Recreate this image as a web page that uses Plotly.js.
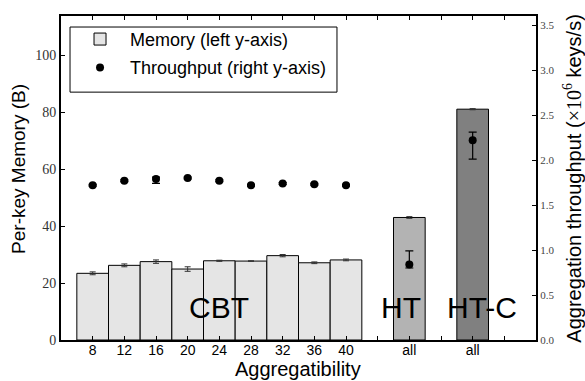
<!DOCTYPE html>
<html>
<head>
<meta charset="utf-8">
<script src="https://cdn.plot.ly/plotly-3.0.1.min.js"></script>
<style>html,body{margin:0;padding:0;background:#fff;}#chart{width:585px;height:381px;}</style>
</head>
<body>
<div id="chart"></div>
<script>
const groups = ['CBT','CBT','CBT','CBT','CBT','CBT','CBT','CBT','CBT','HT','HT-C'];
const aggLabels = ['8','12','16','20','24','28','32','36','40','all','all'];
const memory = [23.4, 26.2, 27.5, 24.9, 27.8, 27.7, 29.6, 27.1, 28.1, 43.0, 81.0];
const memoryErr = [0.5, 0.5, 0.6, 0.8, 0.2, 0.1, 0.4, 0.3, 0.3, 0.3, 0.2];
const throughput = [1.72, 1.77, 1.79, 1.80, 1.77, 1.72, 1.74, 1.73, 1.72, 0.84, 2.22];
const tpErrPlus = [0.01, 0.01, 0.02, 0.01, 0.01, 0.01, 0.01, 0.01, 0.01, 0.15, 0.09];
const tpErrMinus = [0.01, 0.01, 0.05, 0.01, 0.01, 0.01, 0.01, 0.01, 0.01, 0.04, 0.21];

const groupColor = {'CBT':'#e5e5e5','HT':'#b3b3b3','HT-C':'#808080'};

// positions: consecutive within a group, one empty slot between groups
const xPos = [];
let p = 0;
groups.forEach((g, i) => {
  if (i > 0 && g !== groups[i-1]) p += 1;
  xPos.push(p);
  p += 1;
});

// minor ticks at every integer slot
const maxSlot = xPos[xPos.length-1] + 1;
const allSlots = [];
for (let t = 0; t <= maxSlot; t++) allSlots.push(t);

const sans = 'Liberation Sans, Arial, sans-serif';
const serif = 'Liberation Serif, Times New Roman, serif';

const traces = [
  {
    type: 'bar', name: 'Memory (left y-axis)', x: xPos, y: memory, width: 1,
    marker: {color: groups.map(g => groupColor[g]), line: {color: '#000', width: 1}},
    error_y: {type: 'data', array: memoryErr, visible: true, color: '#333', thickness: 1, width: 3},
    legendgroup: 'a', hoverinfo: 'skip'
  },
  {
    type: 'scatter', mode: 'markers', name: 'Throughput (right y-axis)', x: xPos, y: throughput,
    yaxis: 'y2',
    marker: {color: '#000', size: 8, symbol: 'circle'},
    error_y: {type: 'data', symmetric: false, array: tpErrPlus, arrayminus: tpErrMinus, visible: true, color: '#000', thickness: 1.2, width: 4},
    legendgroup: 'b', hoverinfo: 'skip'
  }
];

// group labels
const groupNames = [...new Set(groups)];
const groupShift = {'CBT': 0, 'HT': -8, 'HT-C': 9};
const annotations = groupNames.map(g => {
  const xs = xPos.filter((_, i) => groups[i] === g);
  const cx = xs.reduce((a, b) => a + b, 0) / xs.length;
  return {x: cx, y: 11.4, xref: 'x', yref: 'y', text: g, showarrow: false,
    xanchor: 'center', yanchor: 'middle', xshift: groupShift[g],
    font: {family: sans, size: 30, color: '#000'}};
});

// axis titles
annotations.push(
  {x: 0.499, y: -0.0895, xref: 'paper', yref: 'paper', text: 'Aggregatibility', showarrow: false,
   xanchor: 'center', yanchor: 'middle', font: {family: sans, size: 20, color: '#000'}},
  {x: -0.0884, y: 0.528, xref: 'paper', yref: 'paper', text: 'Per-key Memory (B)', showarrow: false,
   textangle: -90, xanchor: 'center', yanchor: 'middle', font: {family: sans, size: 19, color: '#000'}},
  {x: 1.0758, y: 0.498, xref: 'paper', yref: 'paper',
   text: 'Aggregation throughput (<span style="font-family:Liberation Serif">\u00d710<sup>6</sup></span> keys/s)',
   showarrow: false, textangle: -90, xanchor: 'center', yanchor: 'middle',
   font: {family: sans, size: 20, color: '#000'}}
);

const layout = {
  width: 585, height: 381,
  margin: {l: 61, r: 49, t: 16, b: 41, pad: 0},
  paper_bgcolor: '#fff', plot_bgcolor: '#fff',
  showlegend: true,
  legend: {x: 0.019, y: 0.985, xanchor: 'left', yanchor: 'top',
    bgcolor: 'rgba(0,0,0,0)', borderwidth: 0,
    font: {family: sans, size: 18, color: '#000'},
    traceorder: 'grouped', tracegroupgap: 2, itemwidth: 50},
  shapes: [
    {type: 'rect', xref: 'paper', yref: 'paper', x0: 0.019, x1: 0.581, y0: 0.765, y1: 0.966,
     line: {color: '#000', width: 1}, fillcolor: '#fff', layer: 'above'}
  ],
  xaxis: {
    range: [-1, maxSlot + 1], tickmode: 'array', tickvals: xPos, ticktext: aggLabels,
    ticks: 'inside', ticklen: 4, tickcolor: '#000', tickwidth: 1,
    minor: {tickmode: 'array', tickvals: allSlots, ticks: 'inside', ticklen: 4, tickcolor: '#000', tickwidth: 1, showgrid: false},
    showline: true, linecolor: '#000', linewidth: 2, mirror: 'ticks',
    showgrid: false, zeroline: false, ticklabelstandoff: -4,
    tickfont: {family: sans, size: 14, color: '#000'}
  },
  yaxis: {
    range: [0, 113.7], tickvals: [0, 20, 40, 60, 80, 100],
    ticks: 'inside', ticklen: 4, tickcolor: '#000',
    showline: true, linecolor: '#000', linewidth: 2,
    showgrid: false, zeroline: false,
    tickfont: {family: serif, size: 14, color: '#333'}
  },
  yaxis2: {
    range: [0, 3.6], overlaying: 'y', side: 'right',
    tickvals: [0, 0.5, 1, 1.5, 2, 2.5, 3, 3.5],
    ticktext: ['0.0','0.5','1.0','1.5','2.0','2.5','3.0','3.5'],
    ticks: 'inside', ticklen: 4, tickcolor: '#000',
    showline: true, linecolor: '#000', linewidth: 2,
    showgrid: false, zeroline: false,
    tickfont: {family: serif, size: 11, color: '#444'}
  },
  annotations: annotations,
  bargap: 0
};

Plotly.newPlot('chart', traces, layout, {staticPlot: true, displayModeBar: false});
</script>
</body>
</html>
